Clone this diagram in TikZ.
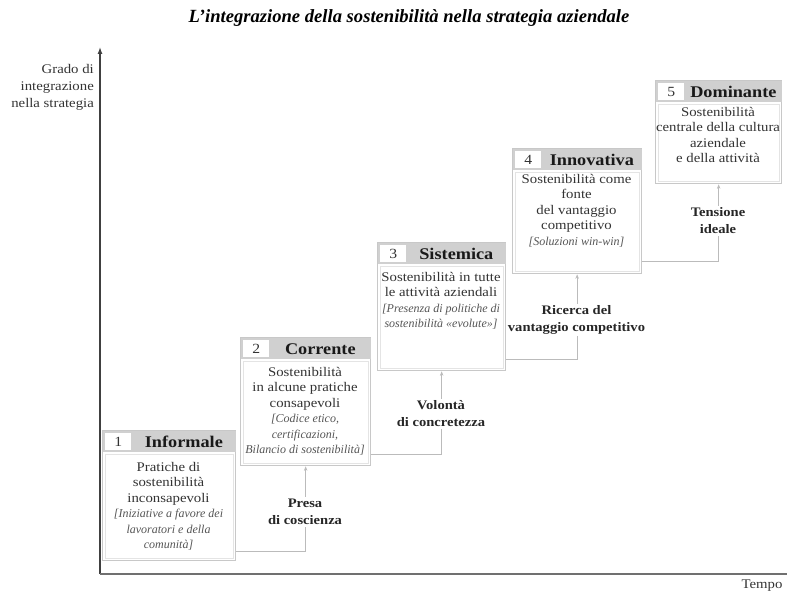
\documentclass[tikz,border=0pt]{standalone}
\usepackage{fontspec}
\setmainfont{Liberation Serif}
\newfontfamily\gar[FakeStretch=1.12]{Liberation Serif}
\usetikzlibrary{arrows.meta,calc}
\definecolor{txt}{HTML}{333333}
\definecolor{itx}{HTML}{555555}
\definecolor{frame}{HTML}{C8C8C8}
\definecolor{hdr}{HTML}{D0D0D0}
\definecolor{axis}{HTML}{707070}
\definecolor{conncol}{HTML}{BBBBBB}
\newcommand\itl[1]{{\rmfamily\itshape\fontsize{12}{15.5}\selectfont\color{itx}#1}}
\newcommand\stagebox[7]{%
  \node[outerbox, minimum width={(#4-#2)*1pt}, minimum height={(#5-#3)*1pt}] (#1) at (#2,#3) {};
  \fill[hdr] ([shift={(0.6pt,-0.6pt)}]#1.north west) rectangle ([shift={(-0.6pt,-22pt)}]#1.north east);
  \draw[innerframe] ([shift={(3pt,-24pt)}]#1.north west) rectangle ([shift={(-3pt,3pt)}]#1.south east);
  \node[numcell] (#1n) at ([shift={(3pt,-3pt)}]#1.north west) {#6};
  \node[titletext] (#1t) at ($(#1n.east)!0.5!(#1n.east -| #1.east)$) {#7};
}
\begin{document}
\begin{tikzpicture}[x=1pt,y=-1pt,
  outerbox/.style={draw=frame, line width=1.3pt, fill=white, inner sep=0pt, anchor=north west},
  innerframe/.style={draw=frame!50, line width=0.5pt},
  numcell/.style={fill=white, anchor=north west, minimum width=26pt, minimum height=17pt, inner sep=0pt, font=\gar\fontsize{14}{16}\selectfont, text=txt},
  titletext/.style={font=\gar\bfseries\fontsize{16.3}{19}\selectfont, text=black!90, inner sep=0pt},
  bodytext/.style={anchor=north, align=center, inner sep=0pt, font=\gar\fontsize{13.2}{15.5}\selectfont, text=txt},
  lbl/.style={align=center, fill=white, inner sep=2pt, font=\gar\bfseries\fontsize{13}{17}\selectfont, text=black!85},
  conn/.style={draw=conncol, line width=0.8pt, -{Stealth[length=4.5pt,width=3.5pt]}},
  axisline/.style={draw=axis, line width=1.3pt}]
\useasboundingbox (0,0) rectangle (787,593);

% title
\node[font=\bfseries\itshape\fontsize{18.6}{20}\selectfont] (title) at (409,18) {L’integrazione della sostenibilità nella strategia aziendale};

% axes
\coordinate (O) at (100,574);
\coordinate (ytop) at (100,47);
\coordinate (xend) at (787,574);
\draw[axisline, draw=black!75, -{Latex[length=7pt,width=5pt]}] (O) -- (ytop);
\draw[axisline] (O) -- (xend);
\node[anchor=north east, align=right, inner sep=0pt, font=\gar\fontsize{13.2}{17}\selectfont, text=txt] (ylab) at (94,64) {Grado di\\integrazione\\nella strategia};
\node[inner sep=0pt, font=\gar\fontsize{13.2}{15}\selectfont, text=txt] (xlab) at (762,586) {Tempo};

% boxes
\stagebox{b1}{102}{430}{235}{560}{1}{Informale}
\stagebox{b2}{240}{337}{370}{465}{2}{Corrente}
\stagebox{b3}{377}{242}{505}{370}{3}{Sistemica}
\stagebox{b4}{512}{148}{641}{273}{4}{Innovativa}
\stagebox{b5}{655}{80}{781}{183}{5}{Dominante}

\node[bodytext] (t1) at (168.5,462) {Pratiche di\\sostenibilità\\inconsapevoli\\\itl{[Iniziative a favore dei}\\\itl{lavoratori e della}\\\itl{comunità]}};
\node[bodytext] (t2) at (305,367) {Sostenibilità\\in alcune pratiche\\consapevoli\\\itl{[Codice etico,}\\\itl{certificazioni,}\\\itl{Bilancio di sostenibilità]}};
\node[bodytext] (t3) at (441,272) {Sostenibilità in tutte\\le attività aziendali\\\itl{[Presenza di politiche di}\\\itl{sostenibilità «evolute»]}};
\node[bodytext] (t4) at (576.5,174) {Sostenibilità come\\fonte\\del vantaggio\\competitivo\\\itl{[Soluzioni win-win]}};
\node[bodytext] (t5) at (718,107) {Sostenibilità\\centrale della cultura\\aziendale\\e della attività};

% connectors
\draw[conn] ([yshift=10pt]b1.south east) -| (b2.south);
\draw[conn] ([yshift=12pt]b2.south east) -| (b3.south);
\draw[conn] ([yshift=12pt]b3.south east) -| (b4.south);
\draw[conn] ([yshift=13pt]b4.south east) -| (b5.south);

\node[lbl] (l1) at (305,512) {Presa\\di coscienza};
\node[lbl] (l2) at (441,414) {Volontà\\di concretezza};
\node[lbl] (l3) at (576.5,320) {Ricerca del\\vantaggio competitivo};
\node[lbl] (l4) at (718,221) {Tensione\\ideale};
\end{tikzpicture}
\end{document}
